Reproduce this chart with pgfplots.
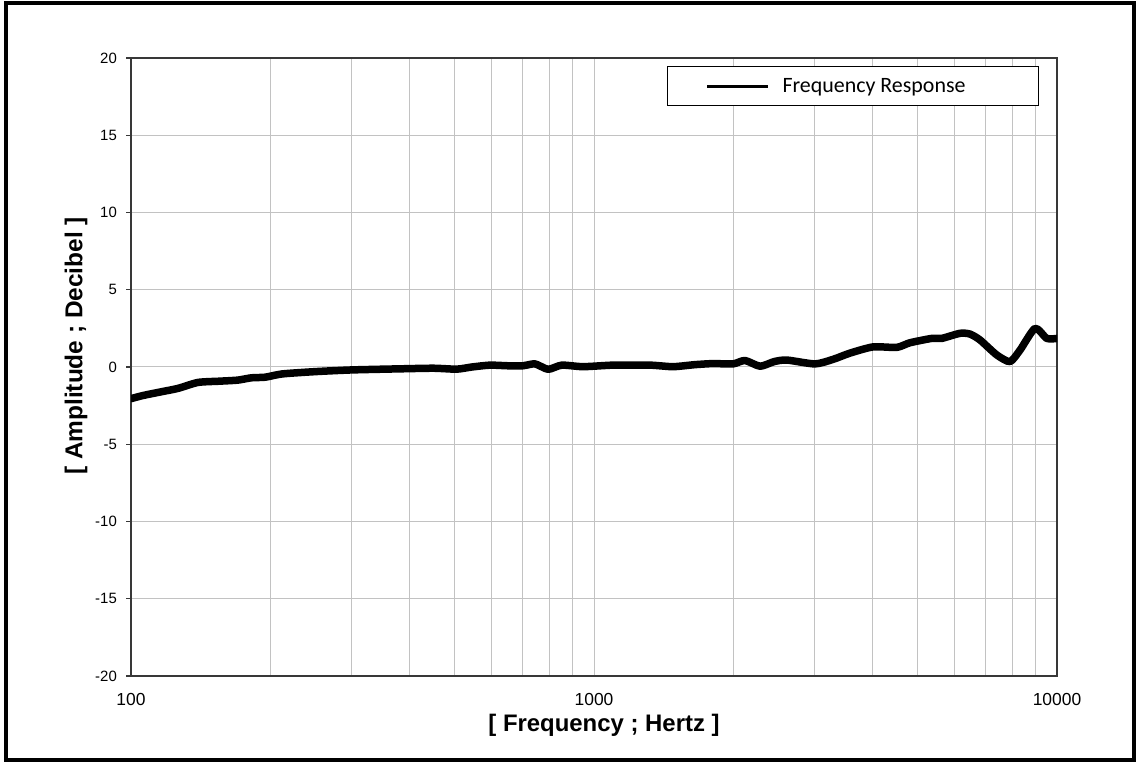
\documentclass[border=0pt]{standalone}
\usepackage{fontspec}
\setmainfont{Liberation Sans}
\newfontfamily\calibri{Carlito}
\usepackage{pgfplots}
\pgfplotsset{compat=1.18}
\begin{document}
\begin{tikzpicture}[x=1bp,y=1bp]
\useasboundingbox (0,0) rectangle (1138,762);
\draw[line width=4bp] (6,2) rectangle (1134,759);
\begin{axis}[
  at={(131bp,86bp)}, anchor=south west,
  scale only axis, width=926bp, height=618bp,
  xmode=log, xmin=100, xmax=10000, ymin=-20, ymax=20,
  xtick={100,1000,10000}, xticklabels={100,1000,10000},
  ytick={-20,-15,-10,-5,0,5,10,15,20},
  yticklabels={-20,-15,-10,-5,0,5,10,15,20},
  grid=both,
  grid style={draw=black!24, line width=1bp},
  minor grid style={draw=black!24, line width=1bp},
  axis line style={draw=black!78, line width=1.3bp},
  tick align=outside, ytick pos=left, xtick pos=bottom,
  major tick length=5bp,
  xtick style={draw=none}, minor tick style={draw=none},
  ytick style={draw=black!78, line width=1.3bp},
  yticklabel style={font=\fontsize{15}{17}\selectfont, inner sep=0pt, xshift=-9bp},
  xticklabel style={font=\fontsize{17.5}{19}\selectfont, inner sep=0pt, yshift=-12bp},
  xlabel={[ Frequency ; Hertz ]},
  ylabel={[ Amplitude ; Decibel ]},
  xlabel style={at={(rel axis cs:0.5108,-0.0793)}, anchor=center, inner sep=0pt, font=\bfseries\fontsize{24}{27}\selectfont},
  ylabel style={at={(rel axis cs:-0.0594,0.534)}, anchor=center, inner sep=0pt, font=\bfseries\fontsize{24.5}{28}\selectfont},
  legend style={at={(rel axis cs:1,1)}, anchor=north east, xshift=-18bp, yshift=-8bp,
    draw=black, line width=1bp, fill=white, inner sep=0pt, column sep=0pt,
    nodes={inner sep=0pt, font=\calibri\fontsize{22}{24}\selectfont}},
  legend image code/.code={\path (0bp,-16bp) (0bp,16bp); \draw[line width=3bp, black, line cap=butt] (36bp,0bp) -- (97bp,0bp);},
]
\addplot[black, line width=7.5bp, smooth, tension=0.4, line cap=round, line join=round] coordinates {
(100,-2.05) (106,-1.85) (116.5,-1.6) (126.5,-1.38) (139.5,-1.0) (155,-0.92) (170,-0.85)
(182,-0.7) (195,-0.66) (212,-0.45) (250,-0.3) (300,-0.19) (380,-0.12) (450,-0.08)
(505,-0.14) (545,0.0) (596,0.12) (650,0.08) (702,0.08) (746,0.2) (796,-0.15) (852,0.12)
(947,0.02) (1099,0.12) (1321,0.12) (1481,0.02) (1650,0.15) (1807,0.22) (1996,0.2)
(2119,0.42) (2284,0.05) (2450,0.35) (2608,0.45) (3001,0.2) (3288,0.5) (3573,0.9)
(4006,1.3) (4507,1.27) (4814,1.57) (5364,1.85) (5636,1.85) (6172,2.18) (6488,2.13)
(6818,1.75) (7410,0.78) (7916,0.35) (8322,1.1) (8965,2.5) (9502,1.85) (10000,1.85)
};
\addlegendentry{\makebox[269bp][l]{\hspace{13bp}Frequency Response}}
\end{axis}
\end{tikzpicture}
\end{document}
